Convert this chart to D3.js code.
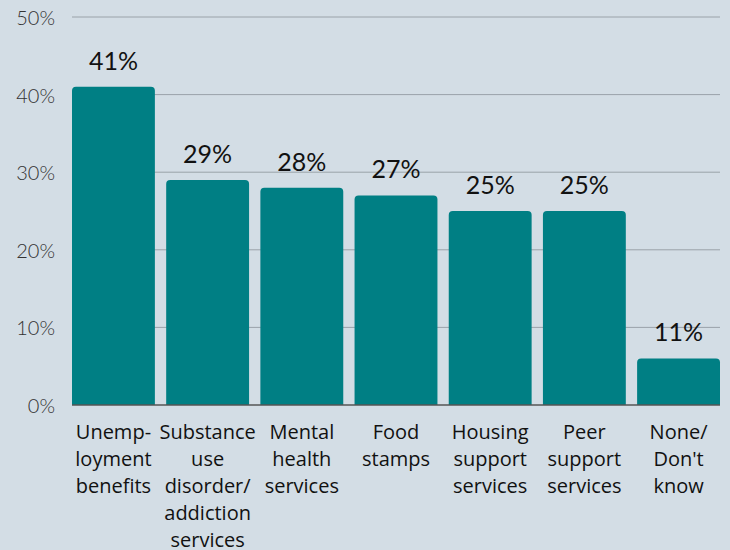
<!DOCTYPE html>
<html><head><meta charset="utf-8">
<script src="https://cdn.jsdelivr.net/npm/d3@7"></script>
<style>
html,body{margin:0;padding:0;background:#d3dde5;}
svg{display:block;}
</style></head>
<body>
<script>
const categories = [
  ["Unemp-","loyment","benefits"],
  ["Substance","use","disorder/","addiction","services"],
  ["Mental","health","services"],
  ["Food","stamps"],
  ["Housing","support","services"],
  ["Peer","support","services"],
  ["None/","Don't","know"]
];
const values = [41, 29, 28, 27, 25, 25, 6];
const valueLabels = ["41%","29%","28%","27%","25%","25%","11%"];
const yTicks = [0, 10, 20, 30, 40, 50];

const W = 730, H = 550;
const svg = d3.select("body").append("svg").attr("width", W).attr("height", H);
svg.append("rect").attr("width", W).attr("height", H).attr("fill", "#d3dde5");

const x = d3.scaleBand().domain(d3.range(values.length)).range([72, 720]).paddingInner(0.12).paddingOuter(0);
const y = d3.scaleLinear().domain([0, 50]).range([405, 17]);

// gridlines
svg.append("g").selectAll("line").data(yTicks.filter(d => d > 0)).join("line")
  .attr("x1", 72).attr("x2", 720)
  .attr("y1", d => y(d)).attr("y2", d => y(d))
  .attr("stroke", "#9aa2a9").attr("stroke-width", 1);

// y tick labels
svg.append("g").selectAll("text").data(yTicks).join("text")
  .attr("x", 55).attr("y", d => y(d))
  .attr("text-anchor", "end").attr("dominant-baseline", "central")
  .attr("font-family", "Lato, sans-serif").attr("font-weight", 300)
  .attr("font-size", 20).attr("fill", "#333")
  .text(d => d + "%");

// bars with rounded top corners
const r = 4;
svg.append("g").selectAll("path").data(values).join("path")
  .attr("fill", "#007f84")
  .attr("d", (d, i) => {
    const x0 = x(i), x1 = x(i) + x.bandwidth(), yt = y(d), yb = y(0);
    return `M${x0},${yb}V${yt + r}Q${x0},${yt} ${x0 + r},${yt}H${x1 - r}Q${x1},${yt} ${x1},${yt + r}V${yb}Z`;
  });

// baseline
svg.append("line").attr("x1", 72).attr("x2", 720).attr("y1", y(0)).attr("y2", y(0))
  .attr("stroke", "#555").attr("stroke-width", 1.5);

// value labels
svg.append("g").selectAll("text").data(values).join("text")
  .attr("x", (d, i) => x(i) + x.bandwidth() / 2)
  .attr("y", d => y(d) - 17)
  .attr("text-anchor", "middle")
  .attr("font-family", "Lato, sans-serif").attr("font-weight", 400)
  .attr("font-size", 25).attr("fill", "#111")
  .text((d, i) => valueLabels[i]);

// category labels
const cg = svg.append("g").selectAll("text").data(categories).join("text")
  .attr("x", (d, i) => x(i) + x.bandwidth() / 2)
  .attr("y", 439)
  .attr("text-anchor", "middle")
  .attr("font-family", "'Open Sans', sans-serif")
  .attr("font-size", 20).attr("fill", "#111");
cg.each(function(lines, i) {
  d3.select(this).selectAll("tspan").data(lines).join("tspan")
    .attr("x", x(i) + x.bandwidth() / 2)
    .attr("dy", (l, j) => j === 0 ? 0 : 27)
    .text(l => l);
});
</script>
</body></html>
